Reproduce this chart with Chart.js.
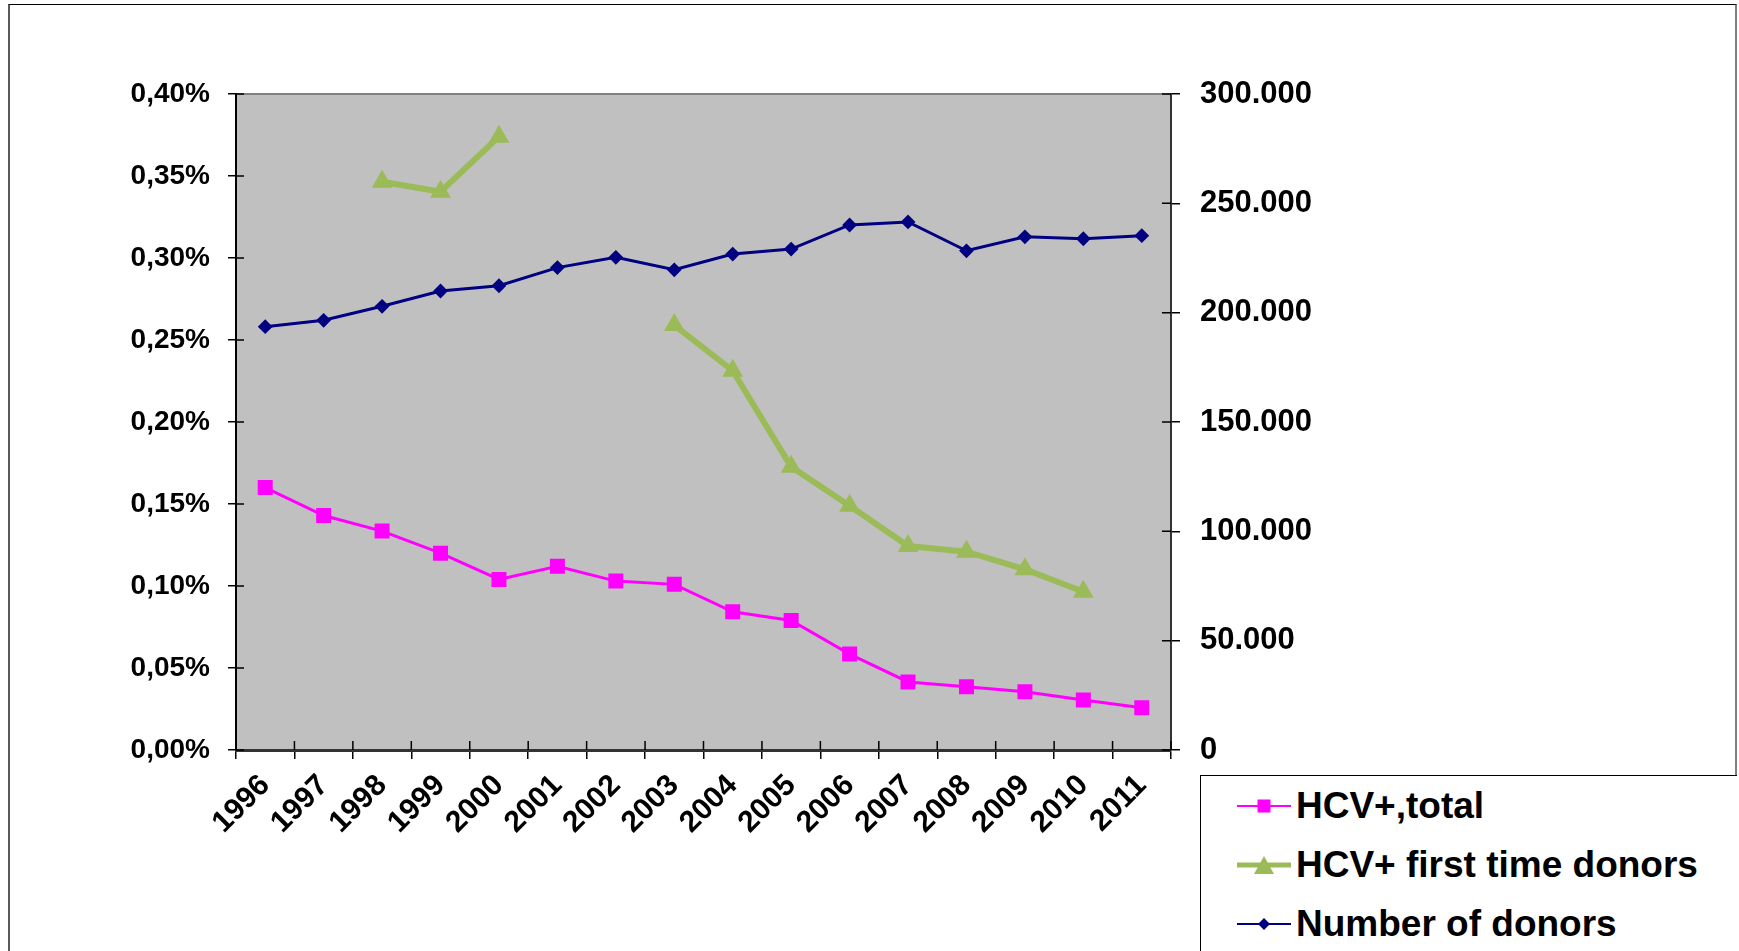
<!DOCTYPE html>
<html>
<head>
<meta charset="utf-8">
<title>HCV+ donors</title>
<script src="https://cdn.jsdelivr.net/npm/chart.js@4.4.1/dist/chart.umd.min.js"></script>
<style>
  html, body { margin: 0; padding: 0; background: #fff; }
  body { width: 1739px; height: 951px; position: relative; overflow: hidden; font-family: "Liberation Sans", Arial, sans-serif; }
  #frame { position: absolute; left: 8px; top: 4px; width: 1725px; height: 1000px; border-top: 1px solid #000; border-left: 2px solid #5a5a5a; border-right: 2px solid #808080; }
  #chart { position: absolute; left: 0; top: 0; }
  #legend { position: absolute; left: 1200px; top: 775px; width: 537px; height: 300px; border: 1px solid #000; border-right: none; background: #fff; box-sizing: border-box; padding-left: 36px; }
  .row { display: flex; align-items: center; height: 59px; font-weight: bold; font-size: 37px; color: #000; white-space: nowrap; }
  .row svg { margin-right: 5px; flex: none; }
</style>
</head>
<body>
<div id="frame"></div>
<canvas id="chart" width="1739" height="951"></canvas>
<div id="legend"></div>
<script>
// --- Data ---
const years = ['1996', '1997', '1998', '1999', '2000', '2001', '2002', '2003',
               '2004', '2005', '2006', '2007', '2008', '2009', '2010', '2011'];

// percent values (left axis)
const hcvTotal = [0.160, 0.143, 0.1335, 0.120, 0.104, 0.112, 0.103, 0.101,
                  0.0843, 0.079, 0.0585, 0.0415, 0.0386, 0.0355, 0.0305, 0.0258];
const hcvFirstTime = [null, null, 0.3465, 0.3404, 0.374, null, null, 0.2591,
                      0.2313, 0.1727, 0.149, 0.1244, 0.1209, 0.1102, 0.0965, null];

// donor counts (right axis)
const donors = [193600, 196500, 202900, 209900, 212300, 220600, 225300, 219600,
                226800, 229100, 240100, 241500, 228300, 234700, 233800, 235200];

const leftTickLabels = ['0,00%', '0,05%', '0,10%', '0,15%', '0,20%', '0,25%', '0,30%', '0,35%', '0,40%'];
const rightTickLabels = ['0', '50.000', '100.000', '150.000', '200.000', '250.000', '300.000'];

const fontFamily = '"Liberation Sans", Arial, sans-serif';
const target = { left: 236, top: 94, right: 1171, bottom: 750 };

// grey plot area with a thin grey top edge
const plotBackground = {
    id: 'plotBackground',
    beforeDraw(chart) {
        const { ctx, chartArea: a } = chart;
        ctx.save();
        ctx.fillStyle = '#C0C0C0';
        ctx.fillRect(a.left, a.top, a.right - a.left, a.bottom - a.top);
        ctx.strokeStyle = '#808080';
        ctx.lineWidth = 2;
        ctx.beginPath();
        ctx.moveTo(a.left, a.top);
        ctx.lineTo(a.right, a.top);
        ctx.stroke();
        ctx.restore();
    }
};

// Excel style ticks cross the axis, Chart.js only draws the outer half
const innerTicks = {
    id: 'innerTicks',
    beforeDatasetsDraw(chart) {
        const { ctx, chartArea: a, scales } = chart;
        ctx.save();
        ctx.strokeStyle = '#000';
        ctx.lineWidth = 1.5;
        ctx.beginPath();
        scales.y.ticks.forEach((t, i) => {
            const py = scales.y.getPixelForTick(i);
            ctx.moveTo(a.left, py);
            ctx.lineTo(a.left + 8, py);
        });
        scales.y1.ticks.forEach((t, i) => {
            const py = scales.y1.getPixelForTick(i);
            ctx.moveTo(a.right - 9, py);
            ctx.lineTo(a.right, py);
        });
        const x = scales.x;
        const n = x.ticks.length;
        const half = (x.getPixelForTick(1) - x.getPixelForTick(0)) / 2;
        for (let i = 0; i <= n; i++) {
            const px = i < n ? x.getPixelForTick(i) - half : x.getPixelForTick(n - 1) + half;
            ctx.moveTo(px, a.bottom);
            ctx.lineTo(px, a.bottom - 9);
        }
        ctx.stroke();
        ctx.restore();
    }
};

const ctx = document.getElementById('chart').getContext('2d');
const chart = new Chart(ctx, {
    type: 'line',
    data: {
        labels: years,
        datasets: [
            {
                label: 'HCV+,total',
                data: hcvTotal,
                yAxisID: 'y',
                borderColor: '#FF00FF',
                backgroundColor: '#FF00FF',
                borderWidth: 3,
                pointStyle: 'rect',
                pointRadius: 10.6,
                pointBorderWidth: 0,
                legendMark: { w: 13, h: 13, line: 2 }
            },
            {
                label: 'HCV+ first time donors',
                data: hcvFirstTime,
                yAxisID: 'y',
                borderColor: '#9BBB59',
                backgroundColor: '#9BBB59',
                borderWidth: 6,
                pointStyle: 'triangle',
                pointRadius: 12,
                pointBorderWidth: 0,
                spanGaps: false,
                legendMark: { w: 20, h: 18, line: 5 }
            },
            {
                label: 'Number of donors',
                data: donors,
                yAxisID: 'y1',
                borderColor: '#000080',
                backgroundColor: '#000080',
                borderWidth: 3,
                pointStyle: 'rectRot',
                pointRadius: 7.4,
                pointBorderWidth: 0,
                legendMark: { w: 12, h: 12, line: 2 }
            }
        ]
    },
    options: {
        responsive: false,
        animation: false,
        devicePixelRatio: 1,
        layout: { padding: { left: 50, top: 50, right: 50, bottom: 50 } },
        elements: { line: { tension: 0 } },
        plugins: {
            legend: { display: false },
            tooltip: { enabled: false }
        },
        scales: {
            x: {
                offset: true,
                grid: { offset: true, drawOnChartArea: false, tickLength: 9, color: '#000', lineWidth: 1.5 },
                border: { color: '#333', width: 3 },
                ticks: {
                    autoSkip: false,
                    minRotation: 45,
                    maxRotation: 45,
                    padding: 9,
                    color: '#000',
                    font: { family: fontFamily, size: 30, weight: 'bold' }
                }
            },
            y: {
                position: 'left',
                min: 0,
                max: 0.4,
                grid: { drawOnChartArea: false, tickLength: 8, color: '#000', lineWidth: 1.5 },
                border: { color: '#000', width: 2 },
                ticks: {
                    stepSize: 0.05,
                    padding: 18,
                    color: '#000',
                    font: { family: fontFamily, size: 28, weight: 'bold' },
                    callback: (v, i) => leftTickLabels[i]
                }
            },
            y1: {
                position: 'right',
                min: 0,
                max: 300000,
                grid: { drawOnChartArea: false, tickLength: 9, color: '#000', lineWidth: 1.5 },
                border: { color: '#333', width: 2 },
                ticks: {
                    stepSize: 50000,
                    padding: 20,
                    color: '#000',
                    font: { family: fontFamily, size: 31, weight: 'bold' },
                    callback: (v, i) => rightTickLabels[i]
                }
            }
        }
    },
    plugins: [plotBackground, innerTicks]
});

// nudge the layout padding so the plot area sits where it does in the original
function fitArea() {
    const a = chart.chartArea;
    const p = chart.options.layout.padding;
    p.left += target.left - a.left;
    p.top += target.top - a.top;
    p.right += a.right - target.right;
    p.bottom += a.bottom - target.bottom;
    chart.update();
}
fitArea();
fitArea();

// HTML legend built from the datasets
function markSvg(ds) {
    const m = ds.legendMark;
    const w = 54, h = 24, cx = w / 2, cy = h / 2;
    let shape = '';
    if (ds.pointStyle === 'rect') {
        shape = `<rect x="${cx - m.w / 2}" y="${cy - m.h / 2}" width="${m.w}" height="${m.h}" fill="${ds.backgroundColor}"/>`;
    } else if (ds.pointStyle === 'triangle') {
        shape = `<polygon points="${cx},${cy - m.h / 2} ${cx + m.w / 2},${cy + m.h / 2} ${cx - m.w / 2},${cy + m.h / 2}" fill="${ds.backgroundColor}"/>`;
    } else {
        shape = `<polygon points="${cx},${cy - m.h / 2} ${cx + m.w / 2},${cy} ${cx},${cy + m.h / 2} ${cx - m.w / 2},${cy}" fill="${ds.backgroundColor}"/>`;
    }
    return `<svg width="${w}" height="${h}" viewBox="0 0 ${w} ${h}">` +
        `<line x1="0" y1="${cy}" x2="${w}" y2="${cy}" stroke="${ds.borderColor}" stroke-width="${m.line}"/>` +
        shape + '</svg>';
}

const legendEl = document.getElementById('legend');
chart.data.datasets.forEach(ds => {
    const row = document.createElement('div');
    row.className = 'row';
    row.innerHTML = markSvg(ds);
    const label = document.createElement('span');
    label.textContent = ds.label;
    row.appendChild(label);
    legendEl.appendChild(row);
});
</script>
</body>
</html>
